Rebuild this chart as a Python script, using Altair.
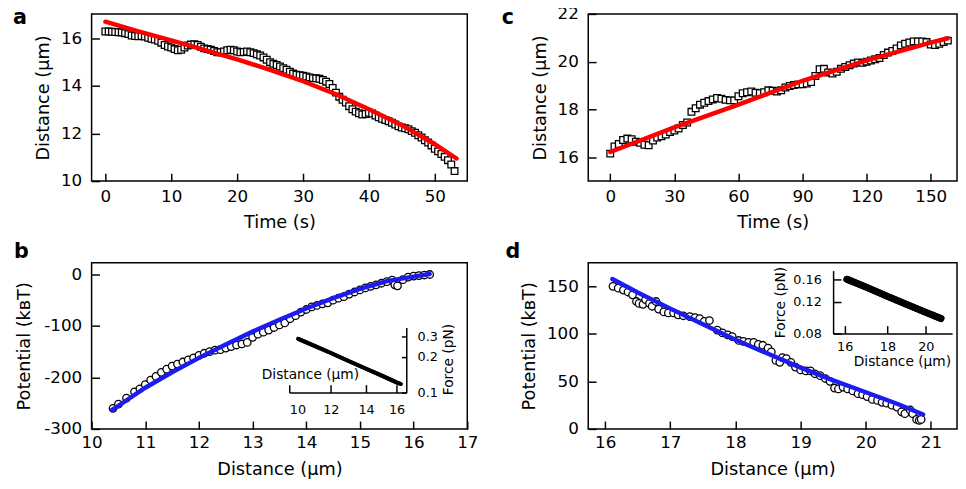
import altair as alt
import pandas as pd

FONT = "DejaVu Sans"

# ---------------- panel a : distance vs time (approach) ----------------
a_time = [round(0.5 * i, 1) for i in range(107)]
a_distance = [
    16.29, 16.29, 16.28, 16.27, 16.26, 16.25, 16.22, 16.18, 16.12, 16.10,
    16.09, 16.10, 16.08, 16.03, 15.98, 15.95, 15.90, 15.82, 15.72, 15.66,
    15.62, 15.55, 15.50, 15.52, 15.62, 15.70, 15.74, 15.75, 15.72, 15.65,
    15.58, 15.55, 15.52, 15.47, 15.42, 15.42, 15.45, 15.50, 15.52, 15.50,
    15.45, 15.42, 15.43, 15.45, 15.42, 15.38, 15.33, 15.28, 15.20, 15.10,
    15.00, 14.93, 14.88, 14.82, 14.75, 14.68, 14.60, 14.52, 14.47, 14.45,
    14.43, 14.40, 14.36, 14.33, 14.32, 14.30, 14.25, 14.18, 14.08, 13.92,
    13.72, 13.55, 13.42, 13.30, 13.15, 13.02, 12.92, 12.85, 12.80, 12.82,
    12.87, 12.84, 12.76, 12.68, 12.62, 12.57, 12.52, 12.45, 12.38, 12.30,
    12.25, 12.22, 12.18, 12.10, 12.03, 11.93, 11.83, 11.72, 11.62, 11.50,
    11.36, 11.25, 11.14, 11.02, 10.88, 10.70, 10.42,
]
a_fit_time = [0, 5, 10, 15, 20, 25, 30, 35, 40, 45, 50, 53.3]
a_fit_distance = [16.70, 16.30, 15.92, 15.52, 15.12, 14.68, 14.20, 13.65, 13.02, 12.35, 11.55, 10.95]

# ---------------- panel b : potential vs distance ----------------
b_distance = [
    10.40, 10.50, 10.65, 10.80, 10.90, 11.00, 11.10, 11.20, 11.30, 11.40,
    11.50, 11.60, 11.70, 11.80, 11.90, 12.00, 12.10, 12.20, 12.30, 12.40,
    12.50, 12.60, 12.70, 12.80, 12.90, 13.00, 13.10, 13.20, 13.30, 13.40,
    13.50, 13.60, 13.70, 13.80, 13.90, 14.00, 14.10, 14.20, 14.30, 14.40,
    14.50, 14.60, 14.70, 14.80, 14.90, 15.00, 15.10, 15.20, 15.30, 15.40,
    15.50, 15.60, 15.65, 15.70, 15.80, 15.90, 16.00, 16.10, 16.20, 16.30,
]
b_potential = [
    -260, -252, -240, -228, -222, -214, -205, -198, -190, -184,
    -178, -174, -170, -166, -162, -157, -153, -150, -147, -146,
    -143, -140, -137, -135, -132, -122, -116, -112, -108, -103,
    -98, -94, -86, -80, -73, -68, -63, -60, -57, -55,
    -50, -46, -43, -38, -34, -30, -26, -23, -20, -17,
    -14, -11, -20, -22, -10, -5, -3, -2, -1, 0,
]
b_fit_distance = [10.38, 10.5, 11, 11.5, 12, 12.5, 13, 13.5, 14, 14.5, 15, 15.5, 16, 16.3]
b_fit_potential = [-263, -255, -220, -190, -162, -136, -111, -88, -66, -46, -28, -13, -4, 1]

# inset b : force vs distance (log-log)
b_inset_distance = [10.4, 11, 12, 13, 14, 15, 16, 16.3]
b_inset_force = [0.285, 0.256, 0.216, 0.184, 0.159, 0.139, 0.122, 0.118]

# ---------------- panel c : distance vs time (retreat) ----------------
c_time = list(range(0, 160, 2))
c_distance = [
    16.15, 16.45, 16.55, 16.72, 16.78, 16.75, 16.65, 16.60, 16.52, 16.50,
    16.70, 16.82, 16.88, 16.95, 17.05, 17.12, 17.20, 17.35, 17.45, 17.90,
    18.05, 18.20, 18.28, 18.35, 18.42, 18.48, 18.45, 18.40, 18.38, 18.38,
    18.55, 18.68, 18.72, 18.75, 18.70, 18.68, 18.72, 18.80, 18.78, 18.75,
    18.80, 18.92, 18.98, 19.02, 19.05, 19.05, 19.08, 19.15, 19.40, 19.68,
    19.70, 19.55, 19.50, 19.58, 19.70, 19.78, 19.85, 19.92, 19.97, 19.95,
    20.00, 20.05, 20.10, 20.15, 20.28, 20.38, 20.45, 20.55, 20.68, 20.75,
    20.80, 20.85, 20.85, 20.85, 20.82, 20.72, 20.70, 20.75, 20.82, 20.88,
]
c_fit_time = [0, 30, 60, 90, 120, 150, 158]
c_fit_distance = [16.22, 17.25, 18.20, 19.20, 20.05, 20.80, 20.98]

# ---------------- panel d : potential vs distance ----------------
d_distance = [
    16.12, 16.20, 16.28, 16.35, 16.42, 16.48, 16.52, 16.58, 16.62, 16.68,
    16.72, 16.78, 16.82, 16.90, 16.97, 17.05, 17.12, 17.20, 17.30, 17.38,
    17.45, 17.52, 17.60, 17.72, 17.80, 17.88, 17.95, 18.05, 18.12, 18.20,
    18.28, 18.35, 18.42, 18.50, 18.55, 18.62, 18.68, 18.72, 18.78, 18.85,
    18.92, 19.00, 19.08, 19.15, 19.22, 19.30, 19.38, 19.45, 19.52, 19.58,
    19.65, 19.72, 19.80, 19.88, 19.95, 20.02, 20.10, 20.18, 20.25, 20.32,
    20.40, 20.48, 20.55, 20.60, 20.68, 20.72, 20.78, 20.82, 20.85,
]
d_potential = [
    150, 148, 146, 144, 141, 134, 132, 131, 136, 132,
    129, 134, 126, 123, 122, 122, 120, 119, 118, 117,
    116, 113, 114, 104, 101, 99, 97, 93, 92, 91,
    91, 89, 88, 85, 81, 72, 70, 75, 74, 70,
    65, 62, 61, 61, 58, 56, 53, 50, 43, 42,
    44, 42, 40, 37, 36, 34, 31, 30, 28, 27,
    25, 23, 18, 16, 20, 16, 10, 9, 10,
]
d_fit_distance = [16.11, 16.5, 17, 17.5, 18, 18.5, 19, 19.5, 20, 20.5, 20.88]
d_fit_potential = [157.6, 143.5, 126.5, 110, 93.8, 79, 64.5, 51, 38.6, 26, 15.2]

# inset d : force vs distance (log-log)
d_inset_distance = [16.1, 17, 18, 19, 20, 20.85]
d_inset_force = [0.161, 0.145, 0.129, 0.116, 0.105, 0.097]

RED = "#ff0000"
BLUE = "#1c1cf0"


def x_axis(values, title, label_pad=8, title_pad=9, expr=None):
    kw = dict(values=values, title=title, orient="bottom", offset=-8, tickSize=8,
              tickWidth=1.5, tickColor="black", domain=False, grid=False, format="d",
              labelPadding=label_pad, labelFont=FONT, labelFontSize=17, labelColor="black",
              titleFont=FONT, titleFontSize=18, titleFontWeight="normal", titleColor="black",
              titlePadding=title_pad, labelFlush=False, labelOverlap=False)
    if expr:
        kw["labelExpr"] = expr
    return alt.Axis(**kw)


def y_axis(values, title, label_pad=10, title_pad=8, expr=None):
    kw = dict(values=values, title=title, orient="left", offset=-8, tickSize=8,
              tickWidth=1.5, tickColor="black", domain=False, grid=False, format="d",
              labelPadding=label_pad, labelFont=FONT, labelFontSize=17, labelColor="black",
              titleFont=FONT, titleFontSize=18, titleFontWeight="normal", titleColor="black",
              titlePadding=title_pad, labelFlush=False, labelOverlap=False)
    if expr:
        kw["labelExpr"] = expr
    return alt.Axis(**kw)


def panel_title(text, dx, dy):
    return alt.TitleParams(text, anchor="start", frame="group", dx=dx, dy=dy, offset=0,
                           baseline="alphabetic", font=FONT, fontSize=21,
                           fontWeight="bold", color="black")


def squares(df, xs, ys, xa, ya):
    return alt.Chart(df).mark_point(shape="square", size=46, filled=True, fill="white",
                                    stroke="black", strokeWidth=1.3, opacity=1).encode(
        x=alt.X("x:Q", scale=xs, axis=xa), y=alt.Y("y:Q", scale=ys, axis=ya))


def circles(df, xs, ys, xa, ya):
    return alt.Chart(df).mark_point(shape="circle", size=58, filled=True, fill="white",
                                    stroke="black", strokeWidth=1.3, opacity=1).encode(
        x=alt.X("x:Q", scale=xs, axis=xa), y=alt.Y("y:Q", scale=ys, axis=ya))


def fit_line(df, xs, ys, color):
    return alt.Chart(df).mark_line(color=color, strokeWidth=4.5, strokeCap="round").encode(
        x=alt.X("x:Q", scale=xs), y=alt.Y("y:Q", scale=ys))


def inset_layers(df, xs, ys, x_off, y_orient, y_off, x_tick, y_tick, xvals, yvals, yfmt,
                 x_title_kw, y_title_kw, width, label_pad_x, label_pad_y):
    common = dict(labelFont=FONT, labelFontSize=13, labelColor="black", grid=False,
                  titleFont=FONT, titleFontSize=14, titleFontWeight="normal", titleColor="black")
    ax_main = alt.Axis(orient="bottom", offset=x_off, values=xvals, format="d", domain=True,
                       domainColor="black", domainWidth=1.5, ticks=False, tickSize=0,
                       labelPadding=label_pad_x, title="Distance (μm)", **x_title_kw, **common)
    ay_main = alt.Axis(orient=y_orient, offset=y_off, values=yvals, format=yfmt, domain=True,
                       domainColor="black", domainWidth=1.5, ticks=False, tickSize=0,
                       labelPadding=label_pad_y, title="Force (pN)", **y_title_kw, **common)
    ax_tick = alt.Axis(orient="bottom", offset=x_off - x_tick, values=xvals, domain=False,
                       ticks=True, tickSize=x_tick, tickWidth=1.5, tickColor="black",
                       labels=False, title=None, grid=False)
    ay_tick = alt.Axis(orient=y_orient, offset=y_off - y_tick, values=yvals, domain=False,
                       ticks=True, tickSize=y_tick, tickWidth=1.5, tickColor="black",
                       labels=False, title=None, grid=False)
    l1 = alt.Chart(df).mark_line(color="black", strokeWidth=width, strokeCap="round").encode(
        x=alt.X("x:Q", scale=xs, axis=ax_main), y=alt.Y("y:Q", scale=ys, axis=ay_main))
    l2 = alt.Chart(df).mark_line(color="black", strokeWidth=width, strokeCap="round").encode(
        x=alt.X("x:Q", scale=xs, axis=ax_tick), y=alt.Y("y:Q", scale=ys, axis=ay_tick))
    return l1, l2


# ---- panel a
a_df = pd.DataFrame({"x": a_time, "y": a_distance})
a_fit_df = pd.DataFrame({"x": a_fit_time, "y": a_fit_distance})
a_xs = alt.Scale(domain=[-2.09, 54.93], nice=False, zero=False)
a_ys = alt.Scale(domain=[10, 17.03], nice=False, zero=False)
panel_a = alt.layer(
    squares(a_df, a_xs, a_ys, x_axis([0, 10, 20, 30, 40, 50], "Time (s)"),
            y_axis([10, 12, 14, 16], "Distance (μm)")),
    fit_line(a_fit_df, a_xs, a_ys, RED),
).properties(width=382, height=170, title=panel_title("a", -80, 32))

# ---- panel c
c_df = pd.DataFrame({"x": c_time, "y": c_distance})
c_fit_df = pd.DataFrame({"x": c_fit_time, "y": c_fit_distance})
c_xs = alt.Scale(domain=[-10.3, 162.3], nice=False, zero=False)
c_ys = alt.Scale(domain=[15, 22], nice=False, zero=False)
panel_c = alt.layer(
    squares(c_df, c_xs, c_ys, x_axis([0, 30, 60, 90, 120, 150], "Time (s)"),
            y_axis([16, 18, 20, 22], "Distance (μm)")),
    fit_line(c_fit_df, c_xs, c_ys, RED),
).properties(width=375, height=170, title=panel_title("c", -88, 40))

# ---- panel b
b_df = pd.DataFrame({"x": b_distance, "y": b_potential})
b_fit_df = pd.DataFrame({"x": b_fit_distance, "y": b_fit_potential})
b_in_df = pd.DataFrame({"x": b_inset_distance, "y": b_inset_force})
b_xs = alt.Scale(domain=[10, 17], nice=False, zero=False)
b_ys = alt.Scale(domain=[-300, 22.9], nice=False, zero=False)
b_main = alt.layer(
    circles(b_df, b_xs, b_ys, x_axis([10, 11, 12, 13, 14, 15, 16, 17], "Distance (μm)", label_pad=6, title_pad=10),
            y_axis([-300, -200, -100, 0], "Potential (kʙT)", title_pad=11, expr="'' + datum.value")),
    fit_line(b_fit_df, b_xs, b_ys, BLUE),
)
bi_xs = alt.Scale(type="log", domain=[10, 16.7], range=[201, 320], nice=False)
bi_ys = alt.Scale(type="log", domain=[0.1, 0.355], range=[132, 66], nice=False)
bi1, bi2 = inset_layers(b_in_df, bi_xs, bi_ys, -37, "right", -62, 8, 5,
                        [10, 12, 14, 16], [0.1, 0.2, 0.3], ".1f",
                        dict(titleX=222, titleY=-18, titleBaseline="middle", titleAlign="center"),
                        dict(titleAngle=270, titleX=43, titleY=98, titleBaseline="middle",
                             titleAlign="center"), 4, 11, 11)
panel_b = alt.layer(b_main, bi1, bi2).resolve_scale(x="independent", y="independent").properties(
    width=382, height=169, title=panel_title("b", -79, 16))

# ---- panel d
d_df = pd.DataFrame({"x": d_distance, "y": d_potential})
d_fit_df = pd.DataFrame({"x": d_fit_distance, "y": d_fit_potential})
d_in_df = pd.DataFrame({"x": d_inset_distance, "y": d_inset_force})
d_xs = alt.Scale(domain=[15.74, 21.40], nice=False, zero=False)
d_ys = alt.Scale(domain=[0, 174.8], nice=False, zero=False)
d_main = alt.layer(
    circles(d_df, d_xs, d_ys, x_axis([16, 17, 18, 19, 20, 21], "Distance (μm)", label_pad=6, title_pad=10),
            y_axis([0, 50, 100, 150], "Potential (kʙT)")),
    fit_line(d_fit_df, d_xs, d_ys, BLUE),
)
di_xs = alt.Scale(type="log", domain=[15.5, 21.5], range=[249, 370], nice=False)
di_ys = alt.Scale(type="log", domain=[0.08, 0.18], range=[72, 8], nice=False)
di1, di2 = inset_layers(d_in_df, di_xs, di_ys, -97, "left", -249, 8, 8,
                        [16, 18, 20], [0.08, 0.12, 0.16], ".2f",
                        dict(titleX=319, titleY=29, titleBaseline="middle", titleAlign="center"),
                        dict(titlePadding=5), 7, 7, 12)
panel_d = alt.layer(d_main, di1, di2).resolve_scale(x="independent", y="independent").properties(
    width=375, height=169, title=panel_title("d", -84, 16))

chart = alt.concat(panel_a, panel_c, panel_b, panel_d, columns=2,
                   spacing=alt.RowColnumber(row=83, column=123), bounds="flush").properties(
    padding={"left": 4, "top": -8, "right": 0, "bottom": 0}
).configure_view(stroke="black", strokeWidth=1.5)

chart.save("out.html", embed_options={"renderer": "svg", "actions": False})
